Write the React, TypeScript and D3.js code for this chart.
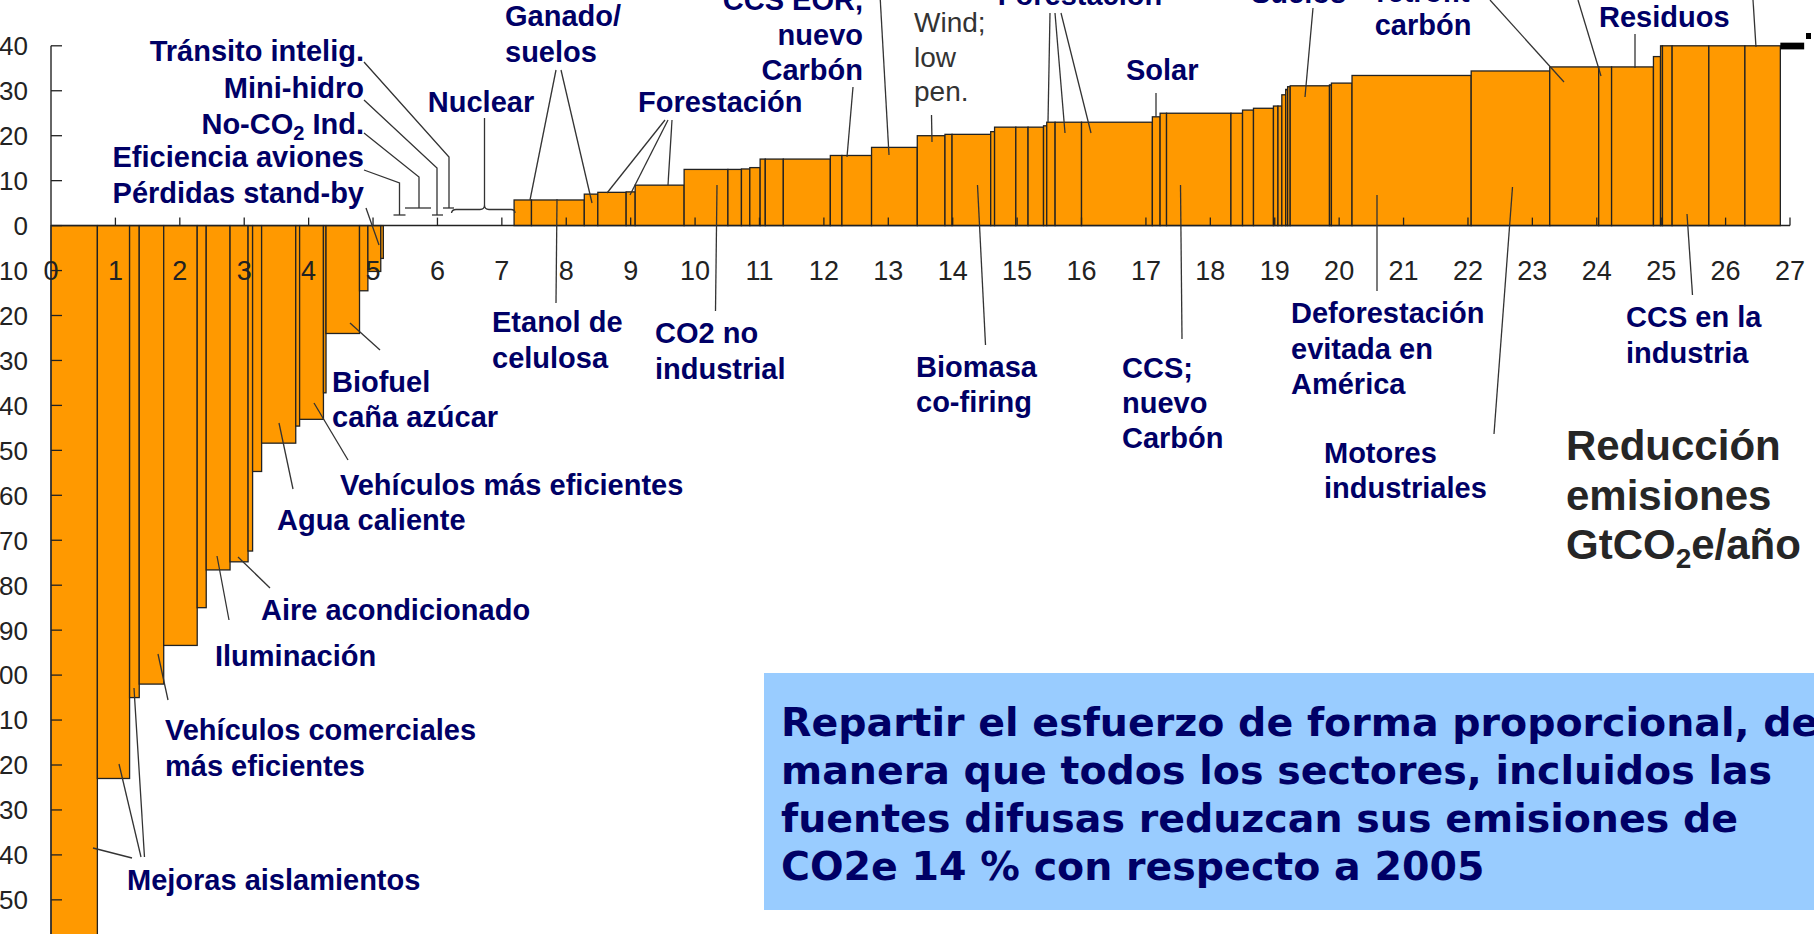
import React from "react";
import * as d3 from "d3";

// ---- data (abatement GtCO2e/año start/end, cost) ----
const leverStart = [
  0, 0.72, 1.22, 1.37, 1.75, 2.27, 2.41, 2.78, 3.06, 3.13, 3.27, 3.8, 3.86, 4.23, 4.27, 4.79, 4.92, 5.12,
  7.19, 7.46, 8.28, 8.49, 8.93, 9.07, 9.83, 10.51, 10.72, 10.85, 11.01, 11.09, 11.37, 12.1, 12.28, 12.74,
  13.45, 13.88, 13.99, 14.59, 14.65, 14.98, 15.17, 15.41, 15.46, 15.59, 16.0, 17.1, 17.22, 17.32, 18.32,
  18.5, 18.67, 18.98, 19.05, 19.11, 19.17, 19.2, 19.24, 19.85, 19.88, 20.2, 22.05, 23.27, 24.03, 24.23,
  24.88, 24.99, 25.02, 25.17, 25.74, 26.3,
];
const leverEnd = [
  0.72, 1.22, 1.37, 1.75, 2.27, 2.41, 2.78, 3.06, 3.13, 3.27, 3.8, 3.86, 4.23, 4.27, 4.79, 4.92, 5.12, 5.16,
  7.46, 8.28, 8.49, 8.93, 9.07, 9.83, 10.51, 10.72, 10.85, 11.01, 11.09, 11.37, 12.1, 12.28, 12.74, 13.45,
  13.88, 13.99, 14.59, 14.65, 14.98, 15.17, 15.41, 15.46, 15.59, 16.0, 17.1, 17.22, 17.32, 18.32, 18.5,
  18.67, 18.98, 19.05, 19.11, 19.17, 19.2, 19.24, 19.85, 19.88, 20.2, 22.05, 23.27, 24.03, 24.23, 24.88,
  24.99, 25.02, 25.17, 25.74, 26.3, 26.85,
];
const leverCost = [
  -190, -123, -105, -102, -93.4, -85, -76.6, -74.8, -72.4, -54.7, -48.4, -44.6, -43.1, -37.2, -24, -14.5, -10.2, -7.3,
  5.7, 5.7, 7.0, 7.4, 7.5, 9.0, 12.5, 12.5, 12.6, 12.9, 14.8, 14.8, 14.8, 15.6, 15.6, 17.4,
  20.0, 20.3, 20.3, 20.9, 21.9, 21.9, 21.9, 22.2, 23.0, 23.0, 23.0, 24.2, 25.0, 25.0, 25.0,
  25.7, 26.1, 26.6, 26.6, 29.1, 30.3, 30.9, 31.1, 31.3, 31.7, 33.4, 34.4, 35.3, 35.3, 35.3,
  37.6, 40.0, 40.0, 40.0, 40.0, 40.0,
];
const yTickValues = [40, 30, 20, 10, 0, -10, -20, -30, -40, -50, -60, -70, -80, -90, -100, -110, -120, -130, -140, -150, -160];
const xTickValues = [0, 1, 2, 3, 4, 5, 6, 7, 8, 9, 10, 11, 12, 13, 14, 15, 16, 17, 18, 19, 20, 21, 22, 23, 24, 25, 26, 27];

// ---- annotations (layout) ----
type Lbl = { lines: string[]; x: number; y: number; anchor?: "start" | "middle" | "end"; dy?: number };
const NAVY = "#000066";
const LFS = 29;
const labels: Lbl[] = [
  { lines: ["Tránsito intelig."], x: 364, y: 61, anchor: "end" },
  { lines: ["Mini-hidro"], x: 364, y: 98, anchor: "end" },
  { lines: ["Eficiencia aviones"], x: 364, y: 167, anchor: "end" },
  { lines: ["Pérdidas stand-by"], x: 364, y: 203, anchor: "end" },
  { lines: ["Nuclear"], x: 481, y: 112, anchor: "middle" },
  { lines: ["Ganado/", "suelos"], x: 505, y: 26, dy: 36 },
  { lines: ["Etanol de", "celulosa"], x: 492, y: 332, dy: 36 },
  { lines: ["Forestación"], x: 638, y: 112 },
  { lines: ["CCS EOR,", "nuevo", "Carbón"], x: 863, y: 10, anchor: "end", dy: 35 },
  { lines: ["Forestación"], x: 1080, y: 5, anchor: "middle" },
  { lines: ["Solar"], x: 1126, y: 80 },
  { lines: ["Suelos"], x: 1251, y: 3 },
  { lines: ["retrofit", "carbón"], x: 1423, y: 2, anchor: "middle", dy: 33 },
  { lines: ["Residuos"], x: 1599, y: 27 },
  { lines: ["Biofuel", "caña azúcar"], x: 332, y: 392, dy: 35 },
  { lines: ["Vehículos más eficientes"], x: 340, y: 495 },
  { lines: ["Agua caliente"], x: 277, y: 530 },
  { lines: ["Aire acondicionado"], x: 261, y: 620 },
  { lines: ["Iluminación"], x: 215, y: 666 },
  { lines: ["Vehículos comerciales", "más eficientes"], x: 165, y: 740, dy: 36 },
  { lines: ["Mejoras aislamientos"], x: 127, y: 890 },
  { lines: ["CO2 no", "industrial"], x: 655, y: 343, dy: 36 },
  { lines: ["Biomasa", "co-firing"], x: 916, y: 377, dy: 35 },
  { lines: ["CCS;", "nuevo", "Carbón"], x: 1122, y: 378, dy: 35 },
  { lines: ["Deforestación", "evitada en", "América"], x: 1291, y: 323, dy: 35.5 },
  { lines: ["Motores", "industriales"], x: 1324, y: 463, dy: 34.5 },
  { lines: ["CCS en la", "industria"], x: 1626, y: 327, dy: 36 },
];

const leaders: number[][][] = [
  [[364, 62], [449, 157], [449, 208]], [[443, 208], [454, 208]],
  [[364, 100], [437, 168], [437, 215]], [[432, 215], [443, 215]],
  [[364, 133], [419, 177], [419, 208]], [[405, 208], [431, 208]],
  [[364, 170], [399.5, 183], [399.5, 215]], [[393.5, 215], [405.5, 215]],
  [[366, 208], [379, 245]],
  [[484.5, 118], [484.5, 205]],
  [[556, 70], [530, 200]], [[561, 70], [592, 203]],
  [[557, 199], [556, 303]],
  [[665, 120], [607, 193]], [[668, 120], [630, 195]], [[672, 120], [668, 185]],
  [[853, 87], [847, 157]],
  [[880, -5], [889, 155]],
  [[931.5, 115], [932, 142]],
  [[1050, 13], [1048, 122]], [[1055, 13], [1065, 133]], [[1061, 13], [1091, 133]],
  [[1156, 93], [1156, 117]],
  [[1313, 8], [1305, 97]],
  [[1490, 0], [1564, 82]],
  [[1578, 0], [1601, 76]],
  [[1635, 34], [1635, 68]],
  [[1753, 0], [1756, 47]],
  [[350, 323], [380, 350]],
  [[314, 403], [348, 460]],
  [[279, 423], [293, 489]],
  [[238, 557], [270, 588]],
  [[217, 556], [229, 620]],
  [[158, 654], [168, 700]],
  [[93, 848], [132, 858]], [[119, 764], [141, 857]], [[134, 688], [144.5, 857]],
  [[717, 185], [715.5, 311]],
  [[977.5, 185], [985.5, 345]],
  [[1180.5, 185], [1182, 339]],
  [[1377, 195], [1377, 291]],
  [[1512.5, 187], [1494, 434]],
  [[1687, 214], [1692.5, 295]],
];

const FONT = "'Liberation Sans', Arial, Helvetica, sans-serif";

export default function App() {
  const W = 1814;
  const H = 934;
  const x = d3.scaleLinear().domain([0, 27]).range([51, 1790]);
  const y = d3.scaleLinear().domain([-160, 40]).range([944.8, 45.8]);
  const line = d3.line<number[]>().x((d) => d[0]).y((d) => d[1]);
  const bars = leverCost.map((c, i) => ({ x0: leverStart[i], x1: leverEnd[i], c }));

  return (
    <>
      <style>{"body{margin:0;overflow:hidden}"}</style>
      <svg width={W} height={H} style={{ display: "block", background: "#fff" }} fontFamily={FONT}>
        {/* bars */}
        {bars.map((b, i) => (
          <rect
            key={i}
            x={x(b.x0)}
            y={y(Math.max(0, b.c))}
            width={x(b.x1) - x(b.x0)}
            height={Math.abs(y(b.c) - y(0))}
            fill="#FF9900"
            stroke="#222"
            strokeWidth={1.3}
          />
        ))}
        {/* end black mark */}
        <rect x={x(26.85)} y={y(40.7)} width={x(27.22) - x(26.85)} height={y(39.2) - y(40.7)} fill="#000" />
        <rect x={1806} y={33} width={5} height={6} fill="#000" />

        {/* axes */}
        <line x1={x(0)} x2={x(27)} y1={y(0)} y2={y(0)} stroke="#222" strokeWidth={1.5} />
        <line x1={x(0)} x2={x(0)} y1={y(40)} y2={H} stroke="#333" strokeWidth={1.5} />
        {yTickValues.map((v) => (
          <g key={"yt" + v}>
            <line x1={x(0)} x2={x(0) + 11} y1={y(v)} y2={y(v)} stroke="#222" strokeWidth={1.3} />
            <text x={28} y={y(v)} dy="0.36em" textAnchor="end" fontSize={26} fill="#222">
              {String(v)}
            </text>
          </g>
        ))}
        {xTickValues.map((v) =>
          v === 0 ? null : (
            <line key={"xt" + v} x1={x(v)} x2={x(v)} y1={y(0)} y2={y(0) - 8} stroke="#222" strokeWidth={1.3} />
          )
        )}
        {xTickValues.map((v) => (
          <text key={"xl" + v} x={x(v)} y={y(-10)} dy="0.36em" textAnchor="middle" fontSize={27} fill="#222">
            {String(v)}
          </text>
        ))}

        {/* leaders */}
        {leaders.map((pts, i) => (
          <path key={"ld" + i} d={line(pts) || ""} fill="none" stroke="#333" strokeWidth={1.3} />
        ))}
        <path
          d="M451.5,213 Q452,209.5 456,209.5 L480,209.5 Q484.5,209.5 484.5,205 Q484.5,209.5 489,209.5 L511,209.5 Q515,209.5 515,213"
          fill="none"
          stroke="#333"
          strokeWidth={1.3}
        />

        {/* labels */}
        {labels.map((l, i) => (
          <text key={"lb" + i} x={l.x} y={l.y} textAnchor={l.anchor || "start"} fontSize={LFS} fontWeight="bold" fill={NAVY}>
            {l.lines.map((s, j) => (
              <tspan key={j} x={l.x} y={l.y + j * (l.dy || 35)}>
                {s}
              </tspan>
            ))}
          </text>
        ))}
        <text x={364} y={134} textAnchor="end" fontSize={LFS} fontWeight="bold" fill={NAVY}>
          No-CO<tspan fontSize={20} dy={6}>2</tspan>
          <tspan dy={-6}> Ind.</tspan>
        </text>
        <text x={914} fontSize={28} fill="#333">
          <tspan x={914} y={32}>Wind;</tspan>
          <tspan x={914} y={67}>low</tspan>
          <tspan x={914} y={101}>pen.</tspan>
        </text>

        {/* axis title */}
        <text x={1566} fontSize={42} fontWeight="bold" fill="#262626">
          <tspan x={1566} y={460}>Reducción</tspan>
          <tspan x={1566} y={510}>emisiones</tspan>
          <tspan x={1566} y={559}>GtCO</tspan>
          <tspan fontSize={28} dy={9}>2</tspan>
          <tspan dy={-9}>e/año</tspan>
        </text>

        {/* blue note box */}
        <rect x={764} y={673} width={1100} height={237} fill="#99CCFF" />
        <text x={781} fontSize={39.5} fontWeight="bold" fill={NAVY} fontFamily="'DejaVu Sans', Verdana, sans-serif">
          <tspan x={781} y={736}>Repartir el esfuerzo de forma proporcional, de</tspan>
          <tspan x={781} y={784}>manera que todos los sectores, incluidos las</tspan>
          <tspan x={781} y={832}>fuentes difusas reduzcan sus emisiones de</tspan>
          <tspan x={781} y={880}>CO2e 14 % con respecto a 2005</tspan>
        </text>
      </svg>
    </>
  );
}
